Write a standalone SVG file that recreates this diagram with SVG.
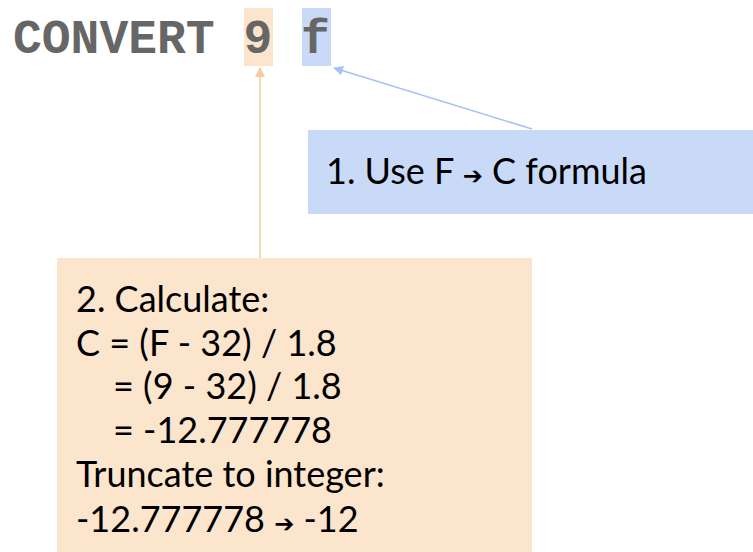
<svg xmlns="http://www.w3.org/2000/svg" width="753" height="552" viewBox="0 0 753 552">
<style>
.code{font-family:"Liberation Mono","Courier New",monospace;font-weight:bold;font-size:48px;fill:#666666}
.lbl{font-family:Lato,"Liberation Sans","DejaVu Sans",sans-serif;font-size:36px;fill:#000000}
.sym{font-family:"DejaVu Sans",sans-serif;font-size:24px;font-weight:bold}
</style>
<defs>
<marker id="ahO" viewBox="0 0 10 10" refX="9" refY="5" markerWidth="10" markerHeight="10" markerUnits="userSpaceOnUse" orient="auto"><path d="M0,0 L10,5 L0,10 z" fill="#f9cb9c"/></marker>
<marker id="ahB" viewBox="0 0 10 10" refX="9" refY="5" markerWidth="10" markerHeight="10" markerUnits="userSpaceOnUse" orient="auto"><path d="M0,0 L10,5 L0,10 z" fill="#a4c2f4"/></marker>
</defs>
<rect width="753" height="552" fill="#ffffff"/>
<g id="code">
<rect x="244" y="8" width="29" height="58" fill="#fce5cd"/>
<rect x="302" y="8" width="29" height="58" fill="#c9daf8"/>
<text class="code" x="13" y="53" xml:space="preserve">CONVERT 9 f</text>
</g>
<g id="connectors">
<line x1="260" y1="258" x2="260" y2="68" stroke="#f9cb9c" stroke-width="1.5" marker-end="url(#ahO)"/>
<line x1="532" y1="129" x2="334" y2="68" stroke="#a4c2f4" stroke-width="1.5" marker-end="url(#ahB)"/>
</g>
<g id="step1">
<rect x="308" y="130" width="445" height="84" fill="#c9daf8"/>
<text class="lbl" x="326" y="184">1. Use F <tspan class="sym">➔</tspan> C formula</text>
</g>
<g id="step2">
<rect x="57" y="258" width="475" height="294" fill="#fce5cd"/>
<text class="lbl" x="76" y="312">2. Calculate:</text>
<text class="lbl" x="76" y="356">C = (F - 32) / 1.8</text>
<text class="lbl" x="113" y="399">= (9 - 32) / 1.8</text>
<text class="lbl" x="113" y="443">= -12.777778</text>
<text class="lbl" x="76" y="487">Truncate to integer:</text>
<text class="lbl" x="76" y="532">-12.777778 <tspan class="sym">➔</tspan> -12</text>
</g>
</svg>
